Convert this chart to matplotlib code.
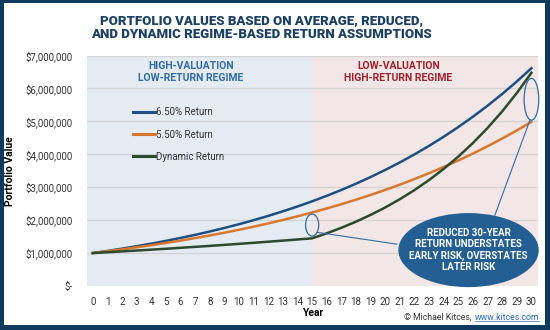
import matplotlib
matplotlib.use("Agg")
import matplotlib.pyplot as plt
from matplotlib.patches import Ellipse, Rectangle
from matplotlib.ticker import FuncFormatter
import numpy as np

plt.rcParams['font.family'] = ['Roboto', 'DejaVu Sans']

years = list(range(31))
ret_650 = [1.000, 1.065, 1.134, 1.208, 1.286, 1.370, 1.459, 1.554, 1.655, 1.763,
           1.877, 1.999, 2.129, 2.268, 2.415, 2.572, 2.739, 2.917, 3.107, 3.309,
           3.524, 3.753, 3.997, 4.256, 4.533, 4.828, 5.141, 5.476, 5.832, 6.211, 6.614]
ret_550 = [1.000, 1.055, 1.113, 1.174, 1.239, 1.307, 1.379, 1.455, 1.535, 1.619,
           1.708, 1.802, 1.901, 2.006, 2.116, 2.232, 2.355, 2.485, 2.621, 2.766,
           2.918, 3.078, 3.248, 3.426, 3.615, 3.813, 4.023, 4.244, 4.478, 4.724, 4.984]
ret_dyn = [1.000, 1.025, 1.051, 1.077, 1.104, 1.131, 1.160, 1.189, 1.218, 1.249,
           1.280, 1.312, 1.345, 1.379, 1.413, 1.448, 1.600, 1.768, 1.954, 2.159,
           2.385, 2.636, 2.913, 3.219, 3.557, 3.930, 4.343, 4.799, 5.303, 5.860, 6.475]
labels = ['6.50% Return', '5.50% Return', 'Dynamic Return']
colors = ['#1f4e80', '#d8782f', '#2c4a2c']

NAVY = '#0f3a5f'

fig = plt.figure(figsize=(5.5, 3.3), dpi=100)
fig.patch.set_facecolor(NAVY)
W, H = 550, 330
fig.add_artist(Rectangle((4 / W, 5 / H), (W - 9) / W, (H - 8) / H,
                         transform=fig.transFigure, facecolor='white',
                         edgecolor='none', zorder=-10))

ax = fig.add_axes([87 / W, 1 - 286 / H, (538 - 87) / W, (286 - 55.5) / H])
ax.set_xlim(-0.4, 30.45)
ax.set_ylim(0, 7e6)

# regime backgrounds
ax.axvspan(-0.4, 15, color='#e4ebf2', zorder=0, lw=0)
ax.axvspan(15, 30.45, color='#f3e6e6', zorder=0, lw=0)

for v in range(1, 8):
    ax.axhline(v * 1e6, color='#d3d3d3', lw=0.9, zorder=1)

for vals, lab, c in zip([ret_650, ret_550, ret_dyn], labels, colors):
    ax.plot(years, np.array(vals) * 1e6, color=c, lw=1.8, label=lab, zorder=3)

for s in ax.spines.values():
    s.set_visible(False)
ax.set_xticks(years)
ax.set_yticks(np.arange(0, 8) * 1e6)
ax.yaxis.set_major_formatter(FuncFormatter(lambda v, p: '$-' if v == 0 else '${:,.0f}'.format(v)))
ax.tick_params(length=0, labelsize=7, labelcolor='#333333', pad=8)
ax.tick_params(axis='y', pad=10)
ax.set_xlabel('Year', fontsize=7.5, fontweight='bold', labelpad=1)
ax.set_ylabel('Portfolio Value', fontsize=7.5, fontweight='bold', labelpad=8)

leg = ax.legend(loc='upper left', bbox_to_anchor=(0.102, 0.775), frameon=False,
                fontsize=7, handlelength=2.3, handletextpad=0.05, labelspacing=1.25,
                borderpad=0, borderaxespad=0)
for line in leg.get_lines():
    line.set_linewidth(2.2)
for t in leg.get_texts():
    t.set_color('#333333')

ax.text(6.7, 6.5e6, 'HIGH-VALUATION\nLOW-RETURN REGIME', ha='center', va='center',
        fontsize=7.5, fontweight='bold', color='#2f6ca3', linespacing=1.15)
ax.text(20.9, 6.5e6, 'LOW-VALUATION\nHIGH-RETURN REGIME', ha='center', va='center',
        fontsize=7.5, fontweight='bold', color='#a31f2b', linespacing=1.15)

# highlight ellipses and callout
ax.add_patch(Ellipse((15, 1.85e6), 0.9, 0.67e6, fill=False, edgecolor='#2f6ca3',
                     lw=0.9, zorder=4))
ax.add_patch(Ellipse((30, 5.67e6), 1.0, 1.27e6, fill=False, edgecolor='#2f6ca3',
                     lw=0.9, zorder=4, clip_on=False))
ax.plot([15.35, 20.8], [1.63e6, 1.27e6], color='#2f6ca3', lw=0.8, zorder=4)
ax.plot([29.9, 27.5], [5.04e6, 2.15e6], color='#2f6ca3', lw=0.8, zorder=4, clip_on=False)
ax.add_patch(Ellipse((25.7, 1.09e6), 9.6, 2.25e6, facecolor='#245f94', edgecolor='none',
                     zorder=5, clip_on=False))
ax.text(25.7, 1.09e6, 'REDUCED 30-YEAR\nRETURN UNDERSTATES\nEARLY RISK, OVERSTATES\nLATER RISK',
        ha='center', va='center', fontsize=7, fontweight='bold', color='white',
        linespacing=1.15, zorder=6)

fig.text(0.475, 1 - 28 / H, 'PORTFOLIO VALUES BASED ON AVERAGE, REDUCED,\n'
         'AND DYNAMIC REGIME-BASED RETURN ASSUMPTIONS', ha='center', va='center',
         fontsize=9.5, fontweight='heavy', color='#1c3f63', linespacing=1.05)

# credit line with underlined link
link = fig.text(539 / W, 1 - 317 / H, 'www.kitces.com', ha='right', va='center',
                fontsize=6.3, color='#2b6cb0')
fig.canvas.draw()
bb = link.get_window_extent()
fig.text((bb.x0 - 3) / W, 1 - 317 / H, '\u00a9 Michael Kitces,', ha='right', va='center',
         fontsize=6.3, color='#333333')
fig.add_artist(plt.Line2D([bb.x0 / W, bb.x1 / W], [(bb.y0 + 0.5) / H] * 2, color='#2b6cb0',
                          lw=0.5, transform=fig.transFigure))

fig.savefig('out.png', dpi=100, facecolor=fig.get_facecolor())
